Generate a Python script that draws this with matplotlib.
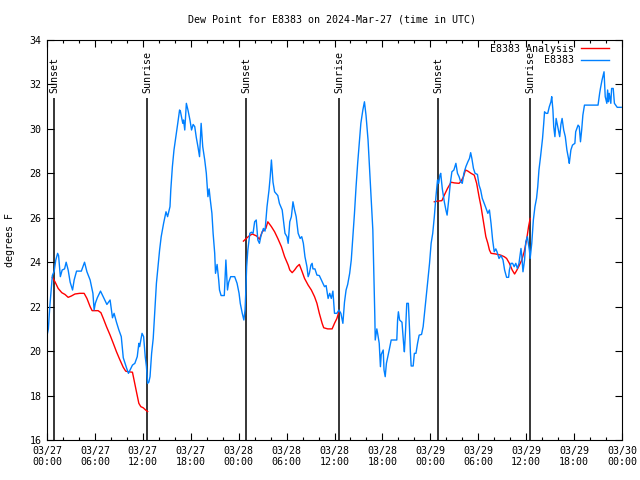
import numpy as np
import pandas as pd
import matplotlib
matplotlib.use("Agg")
import matplotlib.pyplot as plt
import matplotlib.dates as mdates
from matplotlib.ticker import MultipleLocator

# hours after 2024-03-27 00:00 UTC, dew point in degrees F
obs_hours = [0.0, 0.17, 0.35, 0.55, 0.67, 0.9, 1.1, 1.33, 1.45, 1.67, 1.9, 2.2, 2.4, 2.65, 2.9,
             3.2, 3.4, 3.7, 4.3, 4.7, 5.0, 5.4, 5.75, 5.9, 6.05, 6.3, 6.7, 7.1, 7.5, 7.9,
             8.2, 8.4, 8.7, 9.0, 9.3, 9.55, 10.0, 10.2, 10.4, 10.7, 11.0, 11.3, 11.5, 11.6, 11.9,
             12.1, 12.3, 12.45, 12.6, 12.75, 12.9, 13.1, 13.3, 13.5, 13.7, 13.9, 14.1, 14.3, 14.6, 14.9,
             15.1, 15.4, 15.5, 15.7, 15.9, 16.2, 16.4, 16.6, 16.7, 17.0, 17.1, 17.25, 17.45, 17.65, 17.9,
             18.1, 18.3, 18.5, 18.7, 18.9, 19.1, 19.3, 19.5, 19.75, 19.95, 20.15, 20.3, 20.45, 20.65, 20.8,
             21.0, 21.1, 21.3, 21.5, 21.6, 21.8, 22.2, 22.4, 22.6, 22.75, 23.0, 23.5, 23.8, 24.05, 24.2,
             24.45, 24.65, 24.8, 24.9, 25.0, 25.15, 25.4, 25.6, 25.8, 26.0, 26.2, 26.4, 26.6, 26.8, 27.1,
             27.3, 27.55, 27.8, 27.95, 28.1, 28.3, 28.5, 28.9, 29.1, 29.45, 29.6, 29.8, 30.05, 30.2, 30.4,
             30.6, 30.8, 31.0, 31.2, 31.45, 31.7, 31.9, 32.1, 32.3, 32.55, 32.7, 32.85, 33.05, 33.2, 33.3,
             33.55, 33.8, 34.1, 34.35, 34.55, 34.75, 34.95, 35.2, 35.4, 35.6, 35.8, 36.0, 36.3, 36.55, 36.8,
             37.05, 37.25, 37.45, 37.65, 37.9, 38.1, 38.3, 38.5, 38.7, 38.9, 39.1, 39.3, 39.55, 39.75, 39.95,
             40.2, 40.4, 40.6, 40.8, 40.9, 41.05, 41.1, 41.3, 41.4, 41.6, 41.75, 41.85, 42.1, 42.2, 42.35,
             42.5, 42.65, 42.85, 43.1, 43.8, 43.9, 44.0, 44.15, 44.45, 44.65, 44.75, 44.9, 45.05, 45.25, 45.4,
             45.5, 45.6, 45.85, 46.0, 46.2, 46.4, 46.6, 46.9, 47.1, 47.25, 47.45, 47.65, 47.9, 48.1, 48.3,
             48.5, 48.7, 48.9, 49.05, 49.2, 49.3, 49.5, 49.75, 49.95, 50.1, 50.3, 50.5, 50.7, 50.95, 51.2,
             51.4, 51.6, 51.8, 52.0, 52.2, 52.45, 52.7, 52.9, 53.05, 53.2, 53.4, 53.6, 53.9, 54.1, 54.3,
             54.5, 54.9, 55.2, 55.4, 55.6, 55.8, 56.0, 56.2, 56.35, 56.6, 56.85, 57.1, 57.3, 57.55, 57.8,
             57.9, 58.1, 58.3, 58.5, 58.7, 58.9, 59.1, 59.35, 59.45, 59.6, 59.8, 59.95, 60.15, 60.4, 60.5,
             60.7, 60.9, 61.1, 61.3, 61.45, 61.6, 61.8, 62.05, 62.2, 62.3, 62.5, 62.7, 62.9, 63.1, 63.2,
             63.35, 63.45, 63.6, 63.75, 63.9, 64.05, 64.2, 64.35, 64.5, 64.7, 64.9, 65.1, 65.3, 65.4, 65.6,
             65.8, 66.1, 66.2, 66.5, 66.65, 66.8, 66.95, 67.1, 67.3, 69.0, 69.2, 69.3, 69.5, 69.65, 69.75,
             69.82, 69.9, 70.1, 70.2, 70.3, 70.4, 70.6, 70.7, 70.9, 71.05, 71.4, 71.9]
obs_dewpt = [20.7, 21.0, 22.0, 22.9, 23.4, 23.6, 24.1, 24.4, 24.3, 23.35, 23.65, 23.7, 24.0, 23.65, 23.1,
             22.75, 23.2, 23.6, 23.6, 24.0, 23.57, 23.2, 22.6, 21.85, 22.15, 22.4, 22.7, 22.4, 22.1, 22.3,
             21.5, 21.7, 21.3, 20.95, 20.65, 19.7, 19.2, 19.0, 19.15, 19.37, 19.45, 19.75, 20.35, 20.2, 20.8,
             20.65, 19.75, 19.3, 18.55, 18.6, 18.85, 19.9, 20.57, 21.85, 23.05, 23.8, 24.55, 25.15, 25.75, 26.27,
             26.05, 26.5, 27.25, 28.3, 29.05, 29.8, 30.32, 30.85, 30.8, 30.25, 30.4, 29.95, 31.15, 30.85, 30.4,
             29.95, 30.2, 30.1, 29.6, 29.2, 28.75, 30.25, 29.2, 28.6, 28.0, 26.95, 27.3, 26.8, 26.2, 25.3,
             24.4, 23.5, 23.9, 23.2, 22.75, 22.5, 22.5, 24.1, 22.75, 23.1, 23.35, 23.35, 23.05, 22.6, 22.15,
             21.7, 21.4, 21.85, 22.75, 23.8, 24.55, 25.3, 25.35, 25.3, 25.82, 25.9, 25.0, 24.85, 25.2, 25.52,
             25.4, 26.5, 27.25, 27.85, 28.6, 27.6, 27.17, 27.0, 26.65, 26.35, 25.9, 25.3, 25.15, 24.85, 25.82,
             26.05, 26.72, 26.35, 26.05, 25.3, 25.07, 25.15, 24.85, 24.25, 23.8, 23.35, 23.5, 23.87, 23.95, 23.7,
             23.7, 23.42, 23.4, 23.2, 23.05, 22.9, 22.95, 22.37, 22.6, 22.37, 22.7, 21.7, 21.7, 21.85, 21.7,
             21.25, 22.2, 22.75, 23.0, 23.5, 24.1, 25.15, 26.2, 27.4, 28.45, 29.35, 30.25, 30.85, 31.22, 30.6,
             29.5, 28.15, 26.8, 25.45, 23.95, 21.55, 20.5, 21.0, 20.8, 20.35, 19.3, 19.85, 20.05, 19.15, 18.85,
             19.45, 19.7, 20.05, 20.5, 20.5, 21.4, 21.77, 21.4, 21.3, 20.35, 19.97, 20.95, 22.15, 22.15, 20.95,
             19.97, 19.33, 19.33, 19.9, 19.9, 20.35, 20.72, 20.75, 21.1, 21.62, 22.3, 23.05, 23.95, 24.85, 25.3,
             26.05, 26.95, 27.7, 27.55, 27.92, 28.0, 27.3, 26.72, 26.35, 26.12, 26.8, 27.55, 28.07, 28.15, 28.45,
             28.0, 27.85, 27.62, 27.55, 28.0, 28.3, 28.52, 28.67, 28.93, 28.67, 28.22, 28.0, 27.95, 27.47, 27.25,
             26.88, 26.5, 26.2, 26.35, 25.75, 25.0, 24.47, 24.6, 24.47, 24.17, 24.3, 24.1, 23.65, 23.32, 23.32,
             23.65, 23.95, 23.95, 23.8, 23.95, 23.72, 23.95, 24.62, 24.3, 23.57, 24.1, 24.92, 25.15, 24.55, 24.17,
             24.85, 25.9, 26.5, 26.88, 27.4, 28.15, 28.75, 29.57, 30.25, 30.77, 30.7, 30.7, 31.0, 31.22, 31.45,
             30.85, 30.1, 29.65, 30.47, 30.2, 29.95, 29.65, 30.2, 30.47, 29.95, 29.65, 29.05, 28.67, 28.45, 29.05,
             29.27, 29.35, 29.87, 30.17, 30.1, 29.42, 29.95, 30.62, 31.07, 31.07, 31.6, 31.82, 32.2, 32.42, 32.57,
             32.05, 31.45, 31.15, 31.75, 31.22, 31.6, 31.15, 31.82, 31.82, 31.15, 30.97, 30.97]

# analysis, three separate night pieces
ana1_hours = [0.67, 1.0, 1.4, 1.85, 2.25, 2.65, 3.05, 3.5, 4.1, 4.65, 5.0, 5.4, 5.65, 6.4, 6.75, 7.05,
              7.45, 7.9, 8.3, 8.7, 9.1, 9.55, 9.85, 10.2, 10.7, 10.9, 11.2, 11.5, 11.75, 12.05, 12.35, 12.6]
ana1_dewpt = [23.32, 23.12, 22.82, 22.63, 22.55, 22.42, 22.48, 22.57, 22.6, 22.6, 22.37, 22.0, 21.82, 21.82,
              21.73, 21.47, 21.1, 20.72, 20.35, 19.97, 19.63, 19.27, 19.1, 19.07, 19.05, 18.7, 18.17, 17.65,
              17.5, 17.45, 17.35, 17.28]
ana2_hours = [24.6, 24.95, 25.3, 25.7, 26.25, 26.6, 26.95, 27.4, 27.65, 28.1, 28.5, 28.9, 29.35, 29.75,
              30.2, 30.4, 30.7, 31.0, 31.3, 31.6, 31.95, 32.25, 32.7, 33.1, 33.5, 33.8, 34.1, 34.45, 34.65,
              35.15, 35.7, 36.0, 36.3, 36.55]
ana2_dewpt = [24.95, 25.07, 25.18, 25.27, 25.18, 25.03, 25.37, 25.52, 25.82, 25.6, 25.37, 25.07, 24.7,
              24.25, 23.87, 23.65, 23.53, 23.65, 23.8, 23.9, 23.57, 23.27, 22.97, 22.75, 22.45, 22.15, 21.7,
              21.25, 21.05, 21.0, 21.0, 21.25, 21.47, 21.77]
ana3_hours = [48.5, 48.9, 49.45, 49.75, 50.15, 50.6, 51.0, 51.6, 51.85, 52.15, 52.4, 52.7, 53.1, 53.5,
              53.8, 54.1, 54.35, 54.55, 54.75, 54.95, 55.2, 55.4, 55.6, 56.2, 56.8, 57.25, 57.55, 57.9,
              58.25, 58.55, 58.8, 59.1, 59.45, 59.75, 60.05, 60.3, 60.5]
ana3_dewpt = [26.72, 26.75, 26.77, 27.02, 27.32, 27.6, 27.57, 27.55, 27.65, 27.85, 28.15, 28.1, 28.0,
              27.92, 27.55, 26.95, 26.5, 26.05, 25.6, 25.15, 24.85, 24.55, 24.4, 24.37, 24.32, 24.25,
              24.17, 23.95, 23.65, 23.47, 23.62, 23.83, 24.1, 24.47, 25.0, 25.6, 25.97]

sun_hours = [0.92, 12.56, 24.92, 36.6, 49.0, 60.5]
sun_labels = ["Sunset", "Sunrise", "Sunset", "Sunrise", "Sunset", "Sunrise"]

base = pd.Timestamp("2024-03-27 00:00")
def t(h):
    return base + pd.to_timedelta(np.asarray(h), unit="h")

plt.rcParams['font.family'] = ['DejaVu Sans Mono']
fs = 7.2

fig = plt.figure(figsize=(6.4, 4.8), dpi=100)
ax = fig.add_axes([47/640, 40/480, 575/640, 400/480])

for h, lab in zip(sun_hours, sun_labels):
    ax.vlines(t([h]), 16, 31.4, color="black", lw=1.1)
    ax.text(t([h])[0], 31.62, lab, rotation=90, ha="center", va="bottom", fontsize=fs)

ax.plot(t(ana1_hours), ana1_dewpt, color="#ff0000", lw=1, label="E8383 Analysis")
ax.plot(t(ana2_hours), ana2_dewpt, color="#ff0000", lw=1)
ax.plot(t(ana3_hours), ana3_dewpt, color="#ff0000", lw=1)
ax.plot(t(obs_hours), obs_dewpt, color="#0080ff", lw=1, label="E8383")

ax.set_xlim(base, base + pd.Timedelta(hours=72))
ax.set_ylim(16, 34)
ax.yaxis.set_major_locator(MultipleLocator(2))
ax.xaxis.set_major_locator(mdates.HourLocator(byhour=[0, 6, 12, 18]))
ax.xaxis.set_minor_locator(mdates.HourLocator(byhour=range(0, 24, 2)))
ax.xaxis.set_major_formatter(mdates.DateFormatter("%m/%d\n%H:%M"))
ax.tick_params(which="both", direction="in", top=True, right=True, labelsize=fs, width=0.8)
ax.tick_params(which="major", length=5, pad=4)
ax.tick_params(which="minor", length=2.5)
for s in ax.spines.values():
    s.set_linewidth(0.8)

fig.text(332/640, 1 - 19/480, "Dew Point for E8383 on 2024-Mar-27 (time in UTC)",
         ha="center", va="center", fontsize=fs)
fig.text(10/640, 0.5, "degrees F", rotation=90, ha="center", va="center", fontsize=fs)

leg = ax.legend(loc="upper right", bbox_to_anchor=(0.99, 1.008), frameon=False, fontsize=fs,
                markerfirst=False, handlelength=2.8, handletextpad=0.7, labelspacing=0.15,
                borderaxespad=0.3)

fig.savefig("out.png", dpi=100)
